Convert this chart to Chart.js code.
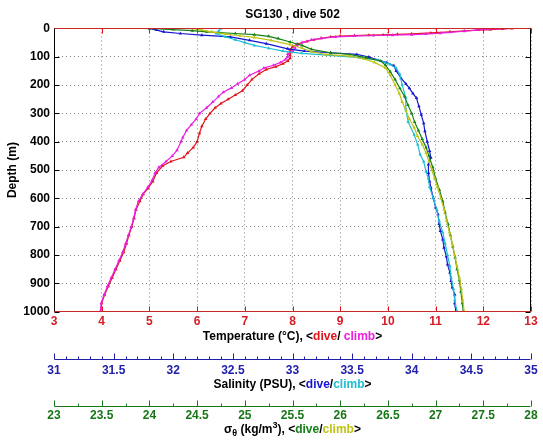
<!DOCTYPE html>
<html>
<head>
<meta charset="utf-8">
<script src="https://cdn.jsdelivr.net/npm/chart.js@4.4.1/dist/chart.umd.min.js"></script>
<style>
  html, body { margin: 0; padding: 0; background: #fff; }
  #wrap { width: 543px; height: 442px; }
</style>
</head>
<body>
<div id="wrap"><canvas id="profile" width="543" height="442"></canvas></div>
<script>
// SG130 dive 502
const tempRange = [3, 13];
const salRange = [31, 35];
const sigmaRange = [23, 28];
const depthRange = [0, 1000];

// temperature (deg C)
const tempDiveDepth = [0, 2, 4, 6, 9, 12, 16, 19, 21, 23, 24, 25, 27, 30, 35, 40, 46, 55, 65, 75, 85, 95, 105, 115, 125, 135, 145, 160, 180, 200, 220, 235, 250, 265, 280, 300, 320, 345, 370, 400, 420, 440, 455, 470, 485, 510, 540, 565, 585, 610, 640, 670, 700, 730, 760, 790, 820, 850, 880, 910, 940, 970, 1000];
const tempDive = [12.6, 12.4, 12.15, 11.9, 11.6, 11.3, 10.9, 10.5, 10.2, 9.9, 9.6, 9.3, 9.0, 8.8, 8.6, 8.45, 8.3, 8.1, 8.0, 7.95, 7.95, 7.95, 7.95, 7.9, 7.8, 7.65, 7.45, 7.3, 7.15, 7.05, 6.95, 6.8, 6.65, 6.5, 6.38, 6.27, 6.18, 6.1, 6.05, 6.0, 5.92, 5.8, 5.72, 5.45, 5.28, 5.15, 5.07, 4.97, 4.87, 4.8, 4.72, 4.68, 4.63, 4.57, 4.52, 4.46, 4.38, 4.3, 4.22, 4.14, 4.06, 4.0, 3.98];
const tempClimbDepth = [1000, 970, 940, 910, 880, 850, 820, 790, 760, 730, 700, 670, 640, 610, 585, 560, 535, 510, 490, 470, 450, 430, 400, 385, 360, 340, 320, 300, 280, 260, 240, 225, 210, 195, 180, 165, 150, 140, 130, 120, 110, 100, 90, 80, 70, 60, 50, 40, 35, 30, 27, 25, 24, 22, 20, 17, 14, 10, 6, 3, 1, 0];
const tempClimb = [3.97, 3.99, 4.05, 4.12, 4.2, 4.28, 4.36, 4.44, 4.5, 4.56, 4.62, 4.67, 4.71, 4.77, 4.86, 4.97, 5.06, 5.12, 5.2, 5.35, 5.48, 5.58, 5.66, 5.7, 5.78, 5.88, 5.98, 6.05, 6.2, 6.33, 6.45, 6.55, 6.72, 6.85, 7.0, 7.1, 7.3, 7.4, 7.6, 7.75, 7.85, 7.9, 7.9, 8.0, 8.05, 8.1, 8.2, 8.4, 8.6, 8.9, 9.3, 9.7, 10.1, 10.5, 10.8, 11.1, 11.3, 11.6, 11.85, 12.1, 12.3, 12.45];

// salinity (PSU)
const salDiveDepth = [0, 6, 12, 18, 24, 30, 42, 54, 72, 80, 86, 92, 101, 121, 132, 150, 176, 195, 211, 230, 246, 275, 305, 335, 363, 400, 433, 457, 480, 510, 540, 562, 598, 632, 656, 690, 715, 745, 774, 805, 833, 862, 892, 915, 939, 970, 1000];
const salDive = [31.80, 31.86, 31.92, 32.06, 32.24, 32.48, 32.64, 32.78, 32.96, 33.10, 33.32, 33.54, 33.64, 33.79, 33.85, 33.87, 33.91, 33.95, 33.98, 34.01, 34.04, 34.06, 34.08, 34.10, 34.11, 34.13, 34.15, 34.16, 34.14, 34.14, 34.15, 34.16, 34.18, 34.20, 34.22, 34.23, 34.24, 34.26, 34.27, 34.29, 34.30, 34.32, 34.33, 34.34, 34.36, 34.36, 34.37];
const salClimbDepth = [1000, 960, 920, 880, 840, 800, 760, 720, 680, 640, 600, 560, 530, 505, 470, 445, 410, 375, 330, 285, 245, 200, 162, 141, 127, 112, 103, 95, 88, 80, 70, 60, 50, 40, 30, 18, 10, 0];
const salClimb = [34.38, 34.36, 34.35, 34.33, 34.32, 34.30, 34.28, 34.26, 34.23, 34.21, 34.18, 34.15, 34.14, 34.12, 34.10, 34.07, 34.05, 34.02, 33.97, 33.95, 33.95, 33.92, 33.90, 33.87, 33.82, 33.72, 33.56, 33.32, 33.08, 32.92, 32.80, 32.68, 32.60, 32.52, 32.44, 32.36, 32.38, 32.40];

// potential density sigma-theta (kg/m3)
const sigDiveDepth = [0, 4, 8, 12, 18, 22, 28, 36, 48, 60, 74, 86, 92, 104, 115, 130, 153, 180, 211, 240, 270, 300, 330, 360, 390, 420, 450, 490, 530, 570, 610, 650, 690, 730, 770, 810, 850, 890, 930, 970, 1000];
const sigDive = [24.0, 24.25, 24.45, 24.6, 24.9, 25.1, 25.25, 25.35, 25.475, 25.6, 25.7, 25.9, 26.1, 26.275, 26.425, 26.475, 26.525, 26.575, 26.625, 26.675, 26.71, 26.75, 26.78, 26.82, 26.86, 26.9, 26.93, 26.97, 27.0, 27.04, 27.075, 27.1, 27.13, 27.155, 27.18, 27.205, 27.225, 27.25, 27.265, 27.28, 27.29];
const sigClimbDepth = [1000, 960, 920, 880, 840, 800, 760, 720, 680, 640, 600, 560, 530, 500, 470, 440, 410, 380, 350, 320, 290, 260, 230, 200, 165, 140, 120, 108, 98, 92, 82, 70, 57, 42, 32, 26, 20, 12, 6, 0];
const sigClimb = [27.3, 27.285, 27.27, 27.25, 27.225, 27.2, 27.175, 27.145, 27.115, 27.09, 27.055, 27.02, 26.99, 26.96, 26.93, 26.9, 26.86, 26.81, 26.775, 26.725, 26.69, 26.65, 26.62, 26.575, 26.525, 26.475, 26.36, 26.25, 26.1, 25.85, 25.7, 25.6, 25.475, 25.275, 25.1, 24.95, 24.8, 24.65, 24.55, 24.45];

const RED = 'rgb(225,20,25)';
const MAGENTA = 'rgb(235,30,225)';
const BLUE = 'rgb(20,20,210)';
const CYAN = 'rgb(30,190,210)';
const GREEN = 'rgb(20,130,20)';
const YELLOW = 'rgb(190,195,20)';
const RED_TXT = 'rgb(214,28,36)';
const BLUE_TXT = 'rgb(32,32,170)';
const GREEN_TXT = 'rgb(24,118,24)';
const GRID = 'rgba(110,110,110,0.85)';
const FONT = "'Liberation Sans', Arial, sans-serif";

Chart.defaults.font.family = FONT;
Chart.defaults.font.size = 12;
Chart.defaults.font.weight = 'bold';

function pts(depths, vals) {
  return depths.map((d, i) => ({ x: vals[i], y: d }));
}

function series(label, depths, vals, color, axis, order) {
  return {
    label: label,
    data: pts(depths, vals),
    xAxisID: axis,
    showLine: true,
    borderColor: color,
    backgroundColor: color,
    borderWidth: 1.2,
    pointStyle: 'triangle',
    pointRadius: 2,
    pointBorderWidth: 0,
    order: order
  };
}

function onStep(v, step) {
  return Math.abs(v / step - Math.round(v / step)) < 1e-6;
}

// fixed box height for the stacked bottom axes, no label overhang
function fixHeight(h) {
  return s => { s.height = h; s.paddingLeft = 0; s.paddingRight = 0; };
}

// multi-coloured text centred on cx
function drawParts(ctx, cx, cy, parts) {
  const main = 'bold 12px ' + FONT;
  let w = 0;
  parts.forEach(p => { ctx.font = p.font || main; w += ctx.measureText(p.t).width; });
  let x = cx - w / 2;
  ctx.textAlign = 'left';
  ctx.textBaseline = 'middle';
  parts.forEach(p => {
    ctx.font = p.font || main;
    ctx.fillStyle = p.c || '#000';
    ctx.fillText(p.t, x, cy + (p.dy || 0));
    x += ctx.measureText(p.t).width;
  });
}

function seg(ctx, x1, y1, x2, y2) {
  ctx.beginPath();
  ctx.moveTo(x1, y1);
  ctx.lineTo(x2, y2);
  ctx.stroke();
}

const frame = {
  id: 'frame',
  afterDraw(chart) {
    const { ctx, chartArea: a, scales } = chart;
    const L = Math.round(a.left) + 0.5, R = Math.round(a.right) - 0.5;
    const T = Math.round(a.top) + 0.5, B = Math.round(a.bottom) - 0.5;
    ctx.save();
    ctx.lineWidth = 1;

    // inward tick marks
    ctx.strokeStyle = RED;
    scales.x.ticks.forEach(t => {
      const px = Math.round(scales.x.getPixelForValue(t.value)) + 0.5;
      seg(ctx, px, T, px, T + 5);
      seg(ctx, px, B, px, B - 5);
    });
    ctx.strokeStyle = '#000';
    scales.y.ticks.forEach(t => {
      const py = Math.round(scales.y.getPixelForValue(t.value)) + 0.5;
      seg(ctx, L, py, L + 5, py);
      seg(ctx, R, py, R - 5, py);
    });

    // box
    seg(ctx, L, T, L, B);
    seg(ctx, R, T, R, B);
    ctx.strokeStyle = 'rgb(200,40,40)';
    seg(ctx, L, T, R, T);
    seg(ctx, L, B, R, B);

    // extra axes for salinity and sigma
    [['xs', 11, BLUE_TXT], ['xg', 10.5, GREEN_TXT]].forEach(([id, off, col]) => {
      const s = scales[id];
      const yl = Math.round(s.top + off) + 0.5;
      ctx.strokeStyle = col;
      seg(ctx, Math.round(s.left) + 0.5, yl, Math.round(s.right) - 0.5, yl);
      s.ticks.forEach(t => {
        const px = Math.round(s.getPixelForValue(t.value)) + 0.5;
        const len = onStep(t.value, 0.5) ? 6 : 3;
        seg(ctx, px, yl, px, yl - len);
      });
    });

    // axis titles
    const cx = (a.left + a.right) / 2;
    const small = 'bold 9px ' + FONT;
    drawParts(ctx, cx, scales.x.top + 25, [
      { t: 'Temperature (\u00B0C), <' }, { t: 'dive', c: RED }, { t: '/ ' },
      { t: 'climb', c: MAGENTA }, { t: '>' }
    ]);
    drawParts(ctx, cx, scales.xs.top + 37, [
      { t: 'Salinity (PSU), <' }, { t: 'dive', c: BLUE }, { t: '/' },
      { t: 'climb', c: CYAN }, { t: '>' }
    ]);
    drawParts(ctx, cx, scales.xg.top + 34, [
      { t: '\u03C3' }, { t: '\u03B8', font: small, dy: 4 }, { t: ' (kg/m' },
      { t: '3', font: small, dy: -4 }, { t: '), <' }, { t: 'dive', c: GREEN },
      { t: '/' }, { t: 'climb', c: YELLOW }, { t: '>' }
    ]);
    ctx.restore();
  }
};

new Chart(document.getElementById('profile'), {
  type: 'scatter',
  data: {
    datasets: [
      series('T dive', tempDiveDepth, tempDive, RED, 'x', 6),
      series('T climb', tempClimbDepth, tempClimb, MAGENTA, 'x', 5),
      series('S dive', salDiveDepth, salDive, BLUE, 'xs', 4),
      series('S climb', salClimbDepth, salClimb, CYAN, 'xs', 3),
      series('sigma dive', sigDiveDepth, sigDive, GREEN, 'xg', 2),
      series('sigma climb', sigClimbDepth, sigClimb, YELLOW, 'xg', 1)
    ]
  },
  options: {
    responsive: false,
    devicePixelRatio: 1,
    animation: false,
    layout: { padding: { left: 0, right: 12, top: 0, bottom: 0 } },
    plugins: {
      legend: { display: false },
      tooltip: { enabled: false },
      title: {
        display: true,
        fullSize: false,
        text: 'SG130 , dive 502',
        color: '#000',
        font: { size: 12, weight: 'bold' },
        padding: { top: 7, bottom: 7 }
      }
    },
    scales: {
      x: {
        type: 'linear', position: 'bottom', weight: 0,
        min: tempRange[0], max: tempRange[1],
        ticks: { stepSize: 1, color: RED_TXT, padding: 3, maxRotation: 0 },
        grid: { color: GRID, lineWidth: 1, drawTicks: false },
        border: { display: false, dash: [1, 3] },
        afterFit: fixHeight(36)
      },
      xs: {
        type: 'linear', position: 'bottom', weight: 1,
        min: salRange[0], max: salRange[1],
        ticks: {
          stepSize: 0.1, autoSkip: false, maxRotation: 0, color: BLUE_TXT, padding: 8,
          callback: v => onStep(v, 0.5) ? String(Number(v.toFixed(1))) : ''
        },
        grid: { display: false },
        border: { display: false },
        afterFit: fixHeight(48)
      },
      xg: {
        type: 'linear', position: 'bottom', weight: 2,
        min: sigmaRange[0], max: sigmaRange[1],
        ticks: {
          stepSize: 0.25, autoSkip: false, maxRotation: 0, color: GREEN_TXT, padding: 5,
          callback: v => onStep(v, 0.5) ? String(Number(v.toFixed(1))) : ''
        },
        grid: { display: false },
        border: { display: false },
        afterFit: fixHeight(46.3)
      },
      y: {
        type: 'linear', position: 'left',
        min: depthRange[0], max: depthRange[1], reverse: true,
        ticks: { stepSize: 100, color: '#000', padding: 4, callback: v => String(v) },
        grid: { color: GRID, lineWidth: 1, drawTicks: false },
        border: { display: false, dash: [1, 3] },
        title: {
          display: true, text: 'Depth (m)', color: '#000',
          font: { size: 12, weight: 'bold' }, padding: { top: 5, bottom: 0 }
        },
        afterFit: s => { s.width = 54; }
      }
    }
  },
  plugins: [frame]
});
</script>
</body>
</html>
